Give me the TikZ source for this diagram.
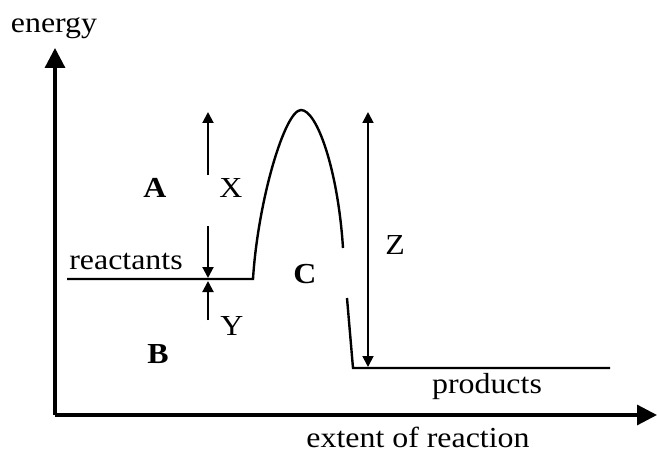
\documentclass[tikz,border=0pt]{standalone}
\usepackage{fontspec}
\setmainfont{Liberation Serif}[FakeStretch=1.1]
\usetikzlibrary{arrows.meta}
\begin{document}
\begin{tikzpicture}[x=1pt,y=-1pt,
  lbl/.style={font=\fontsize{29}{33}\selectfont, inner sep=0pt, anchor=base},
  blbl/.style={lbl, font=\fontsize{29}{33}\selectfont\bfseries},
  axis/.style={line width=3.2pt, -{Triangle[length=20pt,width=20pt]}},
  small/.style={line width=2pt, -{Triangle[length=11pt,width=11pt]}},
  curve/.style={line width=2.4pt}]
\useasboundingbox (0,0) rectangle (657,452);
% axes
\coordinate (O) at (55,415);
\coordinate (Ytop) at (55,48);
\coordinate (Xend) at (657,415);
\draw[axis] (O) -- (Ytop);
\draw[axis] (O) -- (Xend);
% energy profile
\coordinate (r0) at (67,279);
\coordinate (r1) at (253,279);
\coordinate (pk) at (301,110);
\coordinate (g1) at (343,248);
\coordinate (g2) at (347,298);
\coordinate (p0) at (353,368);
\coordinate (p1) at (610,368);
\draw[curve] (r0) -- (r1) .. controls (258,200) and (285,110) .. (pk)
  .. controls (317,110) and (338,170) .. (g1);
\draw[curve] (g2) -- (p0) -- (p1);
% X arrows
\coordinate (xa) at (208,175);
\coordinate (xat) at (208,112);
\coordinate (xb) at (208,226);
\coordinate (xbt) at (208,278);
\draw[small] (xa) -- (xat);
\draw[small] (xb) -- (xbt);
% Y arrow
\coordinate (ya) at (208,320);
\coordinate (yat) at (208,281);
\draw[small] (ya) -- (yat);
% Z arrow
\coordinate (za) at (368,112);
\coordinate (zb) at (368,367);
\draw[line width=1.8pt, {Triangle[length=11pt,width=11pt]}-{Triangle[length=11pt,width=11pt]}] (zb) -- (za);
% labels
\node[lbl] (energy) at (54,33) {energy};
\node[lbl] (react) at (126,269) {reactants};
\node[lbl] (prod) at (487,393) {products};
\node[lbl] (ext) at (418,447) {extent of reaction};
\node[blbl] (A) at (155,197) {A};
\node[blbl] (B) at (158,363) {B};
\node[blbl] (C) at (305,283) {C};
\node[lbl] (X) at (231,197) {X};
\node[lbl] (Y) at (232,335) {Y};
\node[lbl] (Z) at (395,254) {Z};
\end{tikzpicture}
\end{document}
